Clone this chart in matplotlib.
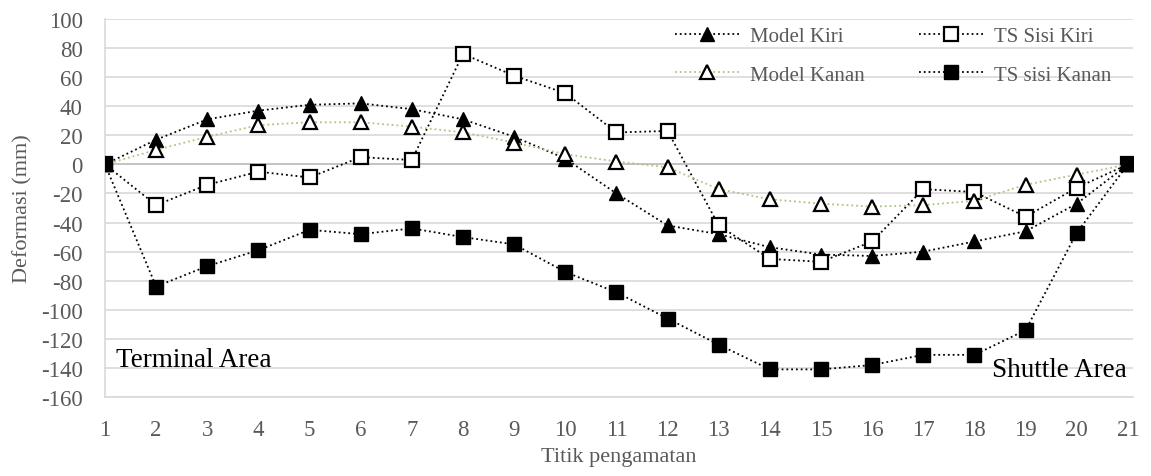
import matplotlib.pyplot as plt

plt.rcParams['font.family'] = ['Liberation Serif', 'DejaVu Serif']
plt.rcParams['axes.unicode_minus'] = False

titik = list(range(1, 22))
model_kiri = [0, 17, 31, 37, 41, 42, 38, 31, 19, 4, -20, -42, -48, -57, -62, -63, -60, -53, -46, -27, 0]
model_kanan = [0, 10, 19, 27, 29, 29, 26, 22, 15, 7, 2, -2, -17, -24, -27, -29, -28, -25, -14, -7, 0]
ts_kiri = [0, -28, -14, -5, -9, 5, 3, 76, 61, 49, 22, 23, -42, -65, -67, -53, -17, -19, -36, -16, 0]
ts_kanan = [0, -84, -70, -59, -45, -48, -44, -50, -55, -74, -88, -106, -124, -141, -141, -138, -131, -131, -114, -47, 0]

grey = '#595959'
grid = '#d9d9d9'

fig = plt.figure(figsize=(11.51, 4.77), dpi=100)
ax = fig.add_axes([0.0912, 0.1656, 0.8932, 0.7924])

l1, = ax.plot(titik, model_kiri, ls=':', color='black', lw=1.3, marker='^', ms=10.5,
              mfc='black', mec='black', label='Model Kiri', zorder=3)
l3, = ax.plot(titik, ts_kiri, ls=':', color='black', lw=1.3, marker='s', ms=10,
              mfc='white', mec='black', mew=1.6, label='TS Sisi Kiri', zorder=4)
l2, = ax.plot(titik, model_kanan, ls=':', color='#a9c77f', lw=1.3, marker='^', ms=10.5,
              mfc='white', mec='black', mew=1.6, label='Model Kanan', zorder=5)
l4, = ax.plot(titik, ts_kanan, ls=':', color='black', lw=1.3, marker='s', ms=10,
              mfc='black', mec='black', label='TS sisi Kanan', zorder=6)

ax.set_xlim(1, 21.1)
ax.set_ylim(-160, 100)
ax.set_xticks(titik)
ax.set_yticks(range(-160, 101, 20))
ax.yaxis.grid(True, color=grid, lw=1.2)
ax.set_axisbelow(True)
ax.axhline(0, color='#bfbfbf', lw=1.2, zorder=1)
for s in ['top', 'right']:
    ax.spines[s].set_visible(False)
for s in ['left', 'bottom']:
    ax.spines[s].set_color(grid)
    ax.spines[s].set_linewidth(1.2)
ax.tick_params(length=0, labelsize=16.5, colors=grey)
ax.tick_params(axis='x', pad=16)
ax.tick_params(axis='y', pad=16)

ax.set_xlabel('Titik pengamatan', fontsize=16, color=grey, labelpad=5)
ax.set_ylabel('Deformasi (mm)', fontsize=16, color=grey, labelpad=6)

ax.text(1.21, -138.5, 'Terminal Area', fontsize=19.5, color='black', va='baseline')
ax.text(20.98, -145.3, 'Shuttle Area', fontsize=19.5, color='black', va='baseline', ha='right')

fig.legend(handles=[l1, l2, l3, l4], loc='upper left', bbox_to_anchor=(0.570, 0.981),
           ncol=2, frameon=False, fontsize=15, handlelength=3.1, columnspacing=2.6,
           labelspacing=0.9, handletextpad=0.5, labelcolor=grey)

fig.savefig('out.png', dpi=100)
